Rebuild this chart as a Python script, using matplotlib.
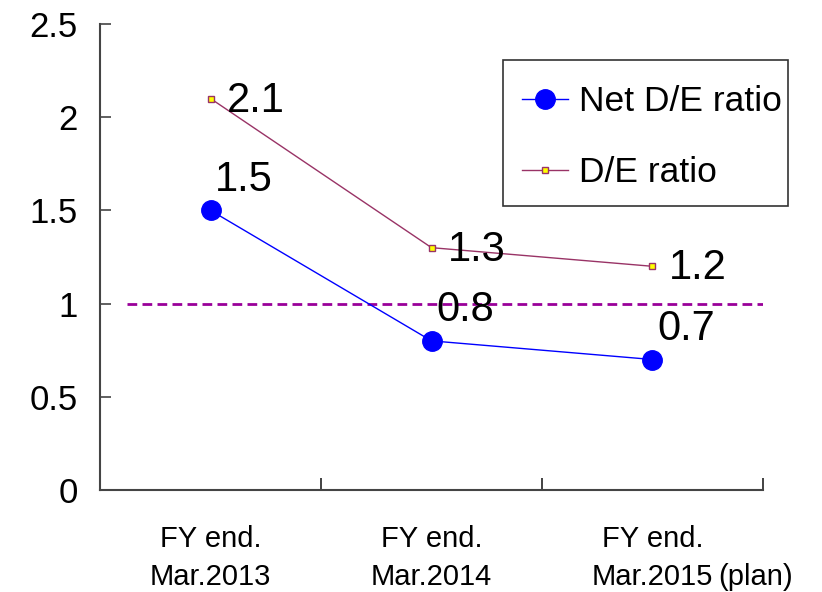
import matplotlib.pyplot as plt
from matplotlib.patches import Rectangle

plt.rcParams['font.family'] = ['Liberation Sans', 'DejaVu Sans']

# data
cat_line1 = ["FY end.", "FY end.", "FY end."]
cat_line2 = ["Mar.2013", "Mar.2014", "Mar.2015"]
net_de = [1.5, 0.8, 0.7]
de = [2.1, 1.3, 1.2]
threshold = 1.0

W, H = 822, 592
fig = plt.figure(figsize=(W / 100, H / 100), dpi=100)
ax = fig.add_axes([0.1217, 0.1723, 0.8065, 0.7872])

x = list(range(len(net_de)))

ax.plot(x, net_de, color='#0000ff', lw=1, marker='o', markersize=14,
        markerfacecolor='#0000ff', markeredgecolor='#0000ff', label='Net D/E ratio', zorder=4)
ax.plot(x, de, color='#993366', lw=1, marker='s', markersize=5,
        markerfacecolor='#ffff00', markeredgecolor='#993366', markeredgewidth=1,
        label='D/E ratio', zorder=4)

ax.plot([-0.38, 2.5], [threshold, threshold], color='#990099', lw=2,
        linestyle=(0, (3.5, 1.9)), zorder=3)

# value labels
for xi, v in zip(x, net_de):
    ax.annotate(f"{v:.1f}", (xi, v), xytext=(24, 22), textcoords='offset points',
                ha='center', va='center', fontsize=30, zorder=5)
for xi, v in zip(x, de):
    ax.annotate(f"{v:.1f}", (xi, v), xytext=(12, -1.5), textcoords='offset points',
                ha='left', va='center', fontsize=30, zorder=5)

ax.set_xlim(-0.5, 2.5)
ax.set_ylim(0, 2.5)
ax.set_yticks([0, 0.5, 1, 1.5, 2, 2.5])
ax.set_yticklabels(['0', '0.5', '1', '1.5', '2', '2.5'], fontsize=25)
ax.set_xticks([0.5, 1.5, 2.5])
ax.set_xticklabels([])
ax.tick_params(axis='y', direction='in', length=8, width=1.2, color='#444444', pad=16)
ax.tick_params(axis='x', direction='in', length=9, width=1.2, color='#222222')

# category labels, one line at a time
for xi, l1, l2 in zip(x, cat_line1, cat_line2):
    ax.annotate(l1, (xi, 0), xytext=(0, -41), textcoords='offset points',
                ha='center', va='baseline', fontsize=21, annotation_clip=False)
    ax.annotate(l2, (xi, 0), xytext=(0, -68.4), textcoords='offset points',
                ha='center', va='baseline', fontsize=21, annotation_clip=False)
ax.annotate("(plan)", (2, 0), xytext=(47, -68.4), textcoords='offset points',
            ha='left', va='baseline', fontsize=21, annotation_clip=False)

for s in ['top', 'right']:
    ax.spines[s].set_visible(False)
for s in ['left', 'bottom']:
    ax.spines[s].set_color('#444444')
    ax.spines[s].set_linewidth(1.5)

# legend with its own box
fig.legend(loc='upper left', bbox_to_anchor=(522 / W, 1 - 85 / H),
           fontsize=25.5, frameon=False, handlelength=1.3,
           handletextpad=0.3, labelspacing=1.08, borderpad=0, borderaxespad=0)
fig.patches.append(Rectangle((503 / W, 1 - 206 / H), 285 / W, 146 / H,
                             transform=fig.transFigure, fill=False,
                             edgecolor='#333333', linewidth=1.2))

fig.savefig('out.png', dpi=100)
